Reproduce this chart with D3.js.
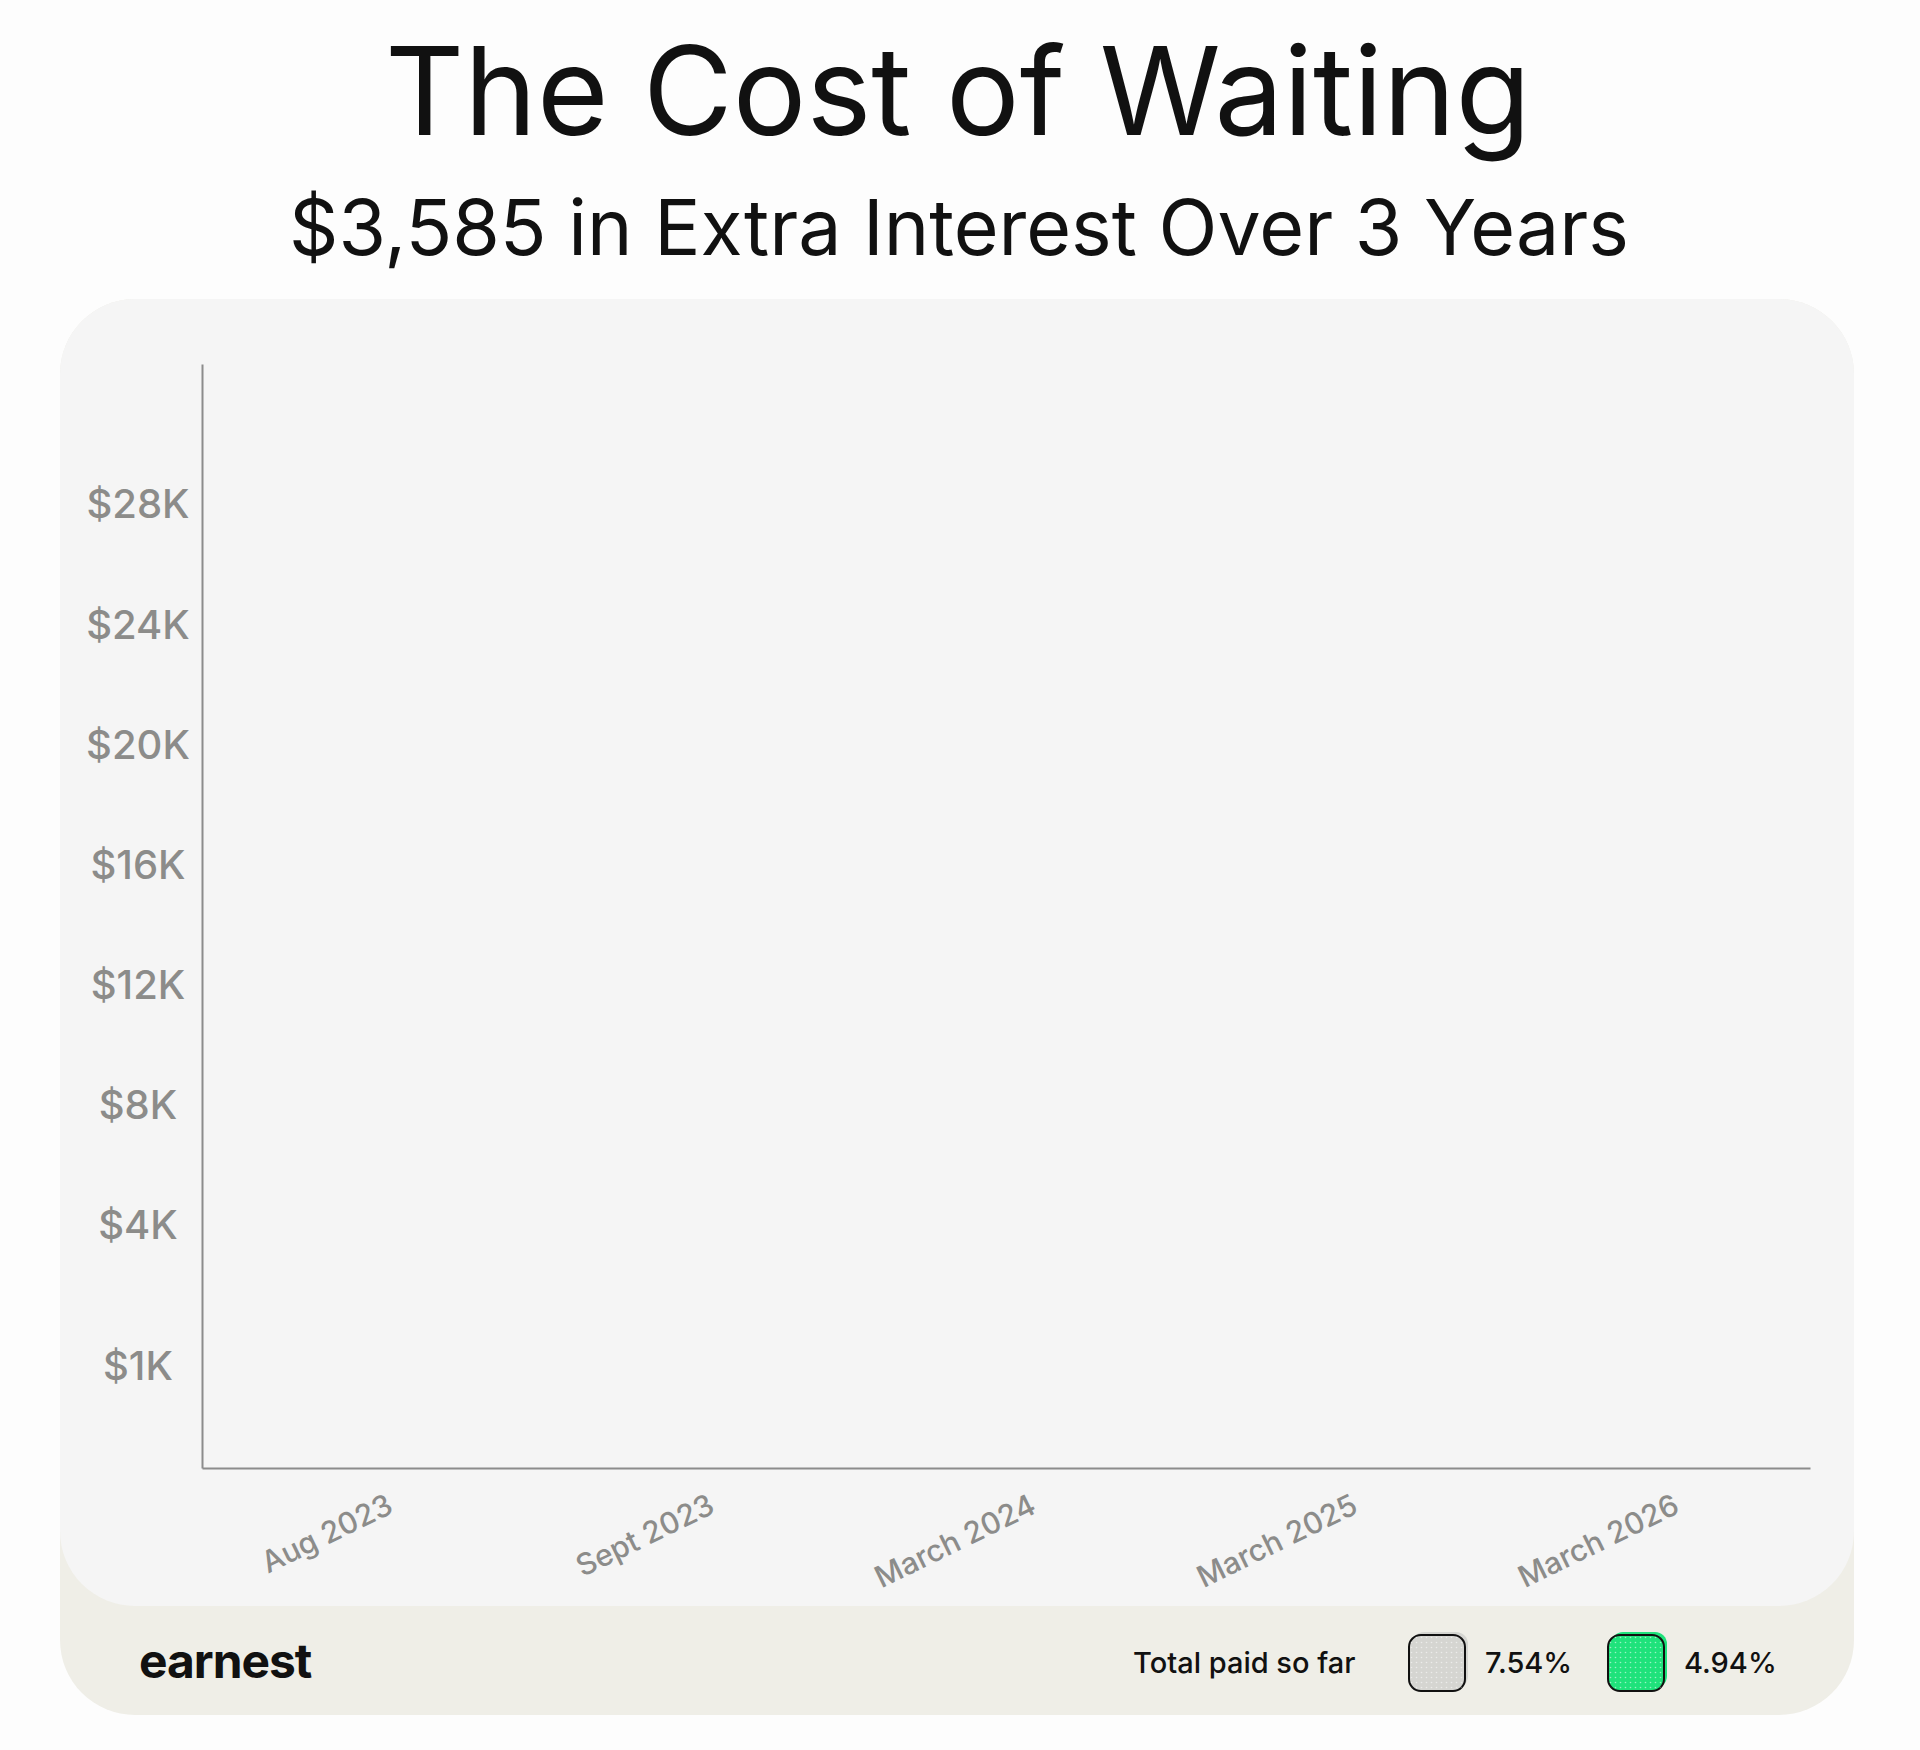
<!DOCTYPE html>
<html>
<head>
<meta charset="utf-8">
<script src="https://cdn.jsdelivr.net/npm/d3@7"></script>
<style>
  body { margin: 0; background: #fdfdfd; }
  svg { display: block; font-family: Inter, "Noto Sans", sans-serif; }
</style>
</head>
<body>
<div id="chart"></div>
<script>
// chart data
var categories = ["Aug 2023", "Sept 2023", "March 2024", "March 2025", "March 2026"];
var paidHigh = [0, 0, 0, 0, 0];   // 7.54% rate, nothing drawn yet in this frame
var paidLow = [0, 0, 0, 0, 0];    // 4.94% rate
var yTicks = [1000, 4000, 8000, 12000, 16000, 20000, 24000, 28000];
var yTickLabels = ["$1K", "$4K", "$8K", "$12K", "$16K", "$20K", "$24K", "$28K"];
var legendRates = ["7.54%", "4.94%"];
var legendColors = ["#d5d5d1", "#1fe27b"];

var W = 1920, H = 1750;
var svg = d3.select("#chart").append("svg").attr("width", W).attr("height", H);

// dotted fill for swatches
var defs = svg.append("defs");
var pat = defs.append("pattern").attr("id", "dots").attr("width", 5).attr("height", 5)
	.attr("patternUnits", "userSpaceOnUse");
pat.append("circle").attr("cx", 2.5).attr("cy", 2.5).attr("r", 0.8).attr("fill", "#fff").attr("opacity", 0.55);

function fitText(sel, target){
	var w = sel.node().getComputedTextLength();
	var fs = parseFloat(sel.attr("font-size"));
	sel.attr("font-size", fs * target / w);
}

// titles
var t1 = svg.append("text").attr("x", 958).attr("y", 135).attr("text-anchor", "middle")
	.attr("font-size", 125).attr("fill", "#111").text("The Cost of Waiting");
fitText(t1, 1146);
var t2 = svg.append("text").attr("x", 959).attr("y", 255).attr("text-anchor", "middle")
	.attr("font-size", 78).attr("fill", "#111").text("$3,585 in Extra Interest Over 3 Years");
fitText(t2, 1340);

// card + footer
svg.append("rect").attr("x", 60).attr("y", 299).attr("width", 1794).attr("height", 1416)
	.attr("rx", 75).attr("fill", "#efeee7");
svg.append("rect").attr("x", 60).attr("y", 299).attr("width", 1794).attr("height", 1307)
	.attr("rx", 75).attr("fill", "#f5f5f5");

// scales
var x = d3.scaleBand().domain(categories).range([202, 1810]).paddingInner(0.3).paddingOuter(0.15);
var y = d3.scaleLinear().domain([0, 1000, 4000, 32700]).range([1468, 1367, 1226, 364]);
var sub = d3.scaleBand().domain([0, 1]).range([0, x.bandwidth()]).padding(0.1);

// bars (zero height in this frame)
var g = svg.append("g");
g.selectAll(".barHigh").data(paidHigh).enter().append("rect")
	.attr("x", function(d, i){ return x(categories[i]) + sub(0); })
	.attr("y", function(d){ return y(d); })
	.attr("width", sub.bandwidth())
	.attr("height", function(d){ return y(0) - y(d); })
	.attr("fill", legendColors[0]);
g.selectAll(".barLow").data(paidLow).enter().append("rect")
	.attr("x", function(d, i){ return x(categories[i]) + sub(1); })
	.attr("y", function(d){ return y(d); })
	.attr("width", sub.bandwidth())
	.attr("height", function(d){ return y(0) - y(d); })
	.attr("fill", legendColors[1]);

// y axis
var yAxis = svg.append("g").attr("transform", "translate(202,0)")
	.call(d3.axisLeft(y).tickValues(yTicks).tickSize(0).tickPadding(64)
		.tickFormat(function(d, i){ return yTickLabels[i]; }));
yAxis.select(".domain").attr("stroke", "#8c8c8c").attr("stroke-width", 2);
yAxis.selectAll("text").attr("text-anchor", "middle").attr("font-size", 40)
	.attr("font-family", "Inter, sans-serif").attr("fill", "#8c8c8a").attr("font-weight", 500);

// x axis
var xAxis = svg.append("g").attr("transform", "translate(0,1468)")
	.call(d3.axisBottom(x).tickSize(0).tickSizeOuter(0));
xAxis.select(".domain").attr("stroke", "#8c8c8c").attr("stroke-width", 2);
xAxis.selectAll("text").attr("y", 0).attr("dy", 0).attr("text-anchor", "end")
	.attr("transform", "translate(32,44) rotate(-26)")
	.attr("font-size", 30).attr("font-family", "Inter, sans-serif")
	.attr("fill", "#8c8c8a").attr("font-weight", 500);

// footer logo
var logo = svg.append("text").attr("x", 139).attr("y", 1678).attr("font-size", 52)
	.attr("font-weight", 700).attr("fill", "#111").attr("letter-spacing", -1).text("earnest");
fitText(logo, 173);

// legend
svg.append("text").attr("x", 1133).attr("y", 1673).attr("font-size", 29)
	.attr("font-weight", 500).attr("fill", "#111").text("Total paid so far");

var leg = svg.selectAll(".leg").data(legendRates).enter().append("g")
	.attr("transform", function(d, i){ return "translate(" + (1409 + i * 199) + ",1635)"; });
leg.append("rect").attr("x", 3).attr("y", -3).attr("width", 56).attr("height", 56).attr("rx", 12)
	.attr("fill", function(d, i){ return legendColors[i]; });
leg.append("rect").attr("width", 56).attr("height", 56).attr("rx", 12)
	.attr("fill", function(d, i){ return legendColors[i]; })
	.attr("stroke", "#111").attr("stroke-width", 2);
leg.append("rect").attr("width", 56).attr("height", 56).attr("rx", 12).attr("fill", "url(#dots)");
leg.append("text").attr("x", 76).attr("y", 38).attr("font-size", 29).attr("font-weight", 500)
	.attr("fill", "#111").text(function(d){ return d; });
</script>
</body>
</html>
